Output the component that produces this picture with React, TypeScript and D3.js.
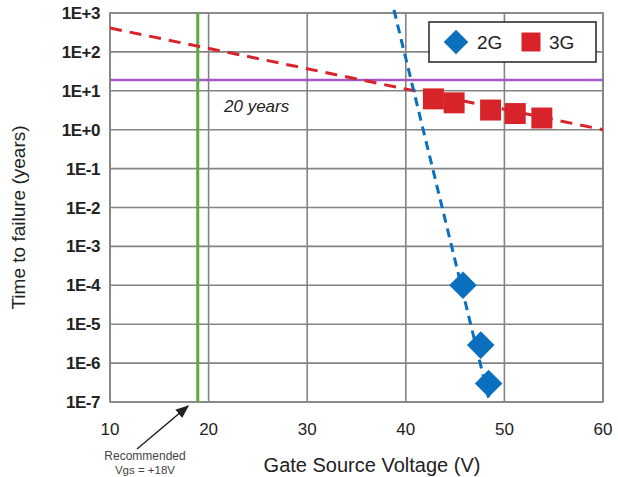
import React from "react";
import { scaleLinear, scaleLog, line, symbol, symbolSquare } from "d3";

const gen2V = [45.8, 47.6, 48.4];
const gen2T = [1e-4, 2.9e-6, 3.0e-7];
const gen3V = [42.8, 44.9, 48.6, 51.1, 53.8];
const gen3T = [6.2, 4.9, 3.2, 2.6, 2.0];
// dashed trend lines (end points)
const fit2G = [
  { v: 38.8, t: 1.2e3 },
  { v: 48.5, t: 1e-7 },
];
const fit3G = [
  { v: 10, t: 410 },
  { v: 60, t: 1.0 },
];
const xTicks = [10, 20, 30, 40, 50, 60];
const yTicks = [1e3, 1e2, 1e1, 1e0, 1e-1, 1e-2, 1e-3, 1e-4, 1e-5, 1e-6, 1e-7];
const yTickLabels = ["1E+3", "1E+2", "1E+1", "1E+0", "1E-1", "1E-2", "1E-3", "1E-4", "1E-5", "1E-6", "1E-7"];
const lifeTarget = 19;
const recommendedVgs = 18.9;

const W = 618;
const H = 477;
const left = 110;
const right = 603;
const top = 13;
const bottom = 402;

const BLUE = "#0a6fbd";
const RED = "#d8232a";
const FONT = "'Liberation Sans', Arial, sans-serif";

export default function App() {
  const x = scaleLinear().domain([10, 60]).range([left, right]);
  const y = scaleLog().domain([1e-7, 1e3]).range([bottom, top]);
  const fitLine = line<{ v: number; t: number }>()
    .x(d => x(d.v))
    .y(d => y(d.t));
  const diamond = symbol().type(symbolSquare).size(380)();
  const square = symbol().type(symbolSquare).size(440)();
  const legDiamond = symbol().type(symbolSquare).size(300)();
  const legSquare = symbol().type(symbolSquare).size(360)();

  return (
    <svg
      width={W}
      height={H}
      style={{ position: "absolute", left: 0, top: 0, background: "#fff" }}
      fontFamily={FONT}
    >
      <defs>
        <clipPath id="plot-clip">
          <rect x={left} y={top - 4} width={right - left} height={bottom - top + 4} />
        </clipPath>
        <marker id="arrow" viewBox="0 0 10 10" refX="9" refY="5" markerWidth="9" markerHeight="9" orient="auto">
          <path d="M0,1 L10,5 L0,9 z" fill="#222" />
        </marker>
      </defs>

      {/* grid */}
      {xTicks.map(t => (
        <line key={"gx" + t} x1={x(t)} x2={x(t)} y1={top} y2={bottom} stroke="#848484" strokeWidth={1.6} />
      ))}
      {yTicks.map(t => (
        <line key={"gy" + t} x1={left} x2={right} y1={y(t)} y2={y(t)} stroke="#848484" strokeWidth={1.6} />
      ))}
      <rect x={left} y={top} width={right - left} height={bottom - top} fill="none" stroke="#848484" strokeWidth={1.6} />

      {/* reference lines */}
      <line x1={left} x2={right} y1={y(lifeTarget)} y2={y(lifeTarget)} stroke="#a259c4" strokeWidth={2.5} />
      <line x1={x(recommendedVgs)} x2={x(recommendedVgs)} y1={top} y2={bottom} stroke="#5aaa3c" strokeWidth={3} />
      <text x={224} y={112} fontSize={17} fontStyle="italic" fill="#222">20 years</text>

      {/* trend lines */}
      <g clipPath="url(#plot-clip)">
        <path d={fitLine(fit3G) || ""} fill="none" stroke={RED} strokeWidth={3} strokeDasharray="12 8" />
        <path d={fitLine(fit2G) || ""} fill="none" stroke={BLUE} strokeWidth={3} strokeDasharray="9 6" />
      </g>

      {/* markers */}
      {gen3V.map((v, i) => (
        <path key={"s" + i} d={square || ""} transform={`translate(${x(v)},${y(gen3T[i])})`} fill={RED} />
      ))}
      {gen2V.map((v, i) => (
        <path key={"d" + i} d={diamond || ""} transform={`translate(${x(v)},${y(gen2T[i])}) rotate(45)`} fill={BLUE} />
      ))}

      {/* legend */}
      <rect x={429} y={22} width={167} height={40} fill="#fff" stroke="#222" strokeWidth={1.5} />
      <path d={legDiamond || ""} transform="translate(456,42) rotate(45)" fill={BLUE} />
      <text x={477} y={49} fontSize={19} fill="#222">2G</text>
      <path d={legSquare || ""} transform="translate(531,42)" fill={RED} />
      <text x={549} y={49} fontSize={19} fill="#222">3G</text>

      {/* axes labels */}
      {yTicks.map((t, i) => (
        <text key={"yl" + t} x={100} y={y(t) + 6} textAnchor="end" fontSize={17} fontWeight="bold" fill="#222" letterSpacing={-0.5}>
          {yTickLabels[i]}
        </text>
      ))}
      {xTicks.map(t => (
        <text key={"xl" + t} x={x(t)} y={435} textAnchor="middle" fontSize={17} fill="#222">
          {t}
        </text>
      ))}
      <text
        transform={`translate(25,${(top + bottom) / 2 + 10}) rotate(-90)`}
        textAnchor="middle"
        fontSize={19}
        fill="#222"
      >
        Time to failure (years)
      </text>
      <text x={372} y={472} textAnchor="middle" fontSize={20} fill="#222">
        Gate Source Voltage (V)
      </text>

      {/* annotation */}
      <line x1={137} y1={449} x2={188} y2={406} stroke="#222" strokeWidth={1.5} markerEnd="url(#arrow)" />
      <text x={145} y={460} textAnchor="middle" fontSize={12} fill="#444">Recommended</text>
      <text x={145} y={474} textAnchor="middle" fontSize={11.5} fill="#444">Vgs = +18V</text>
    </svg>
  );
}
